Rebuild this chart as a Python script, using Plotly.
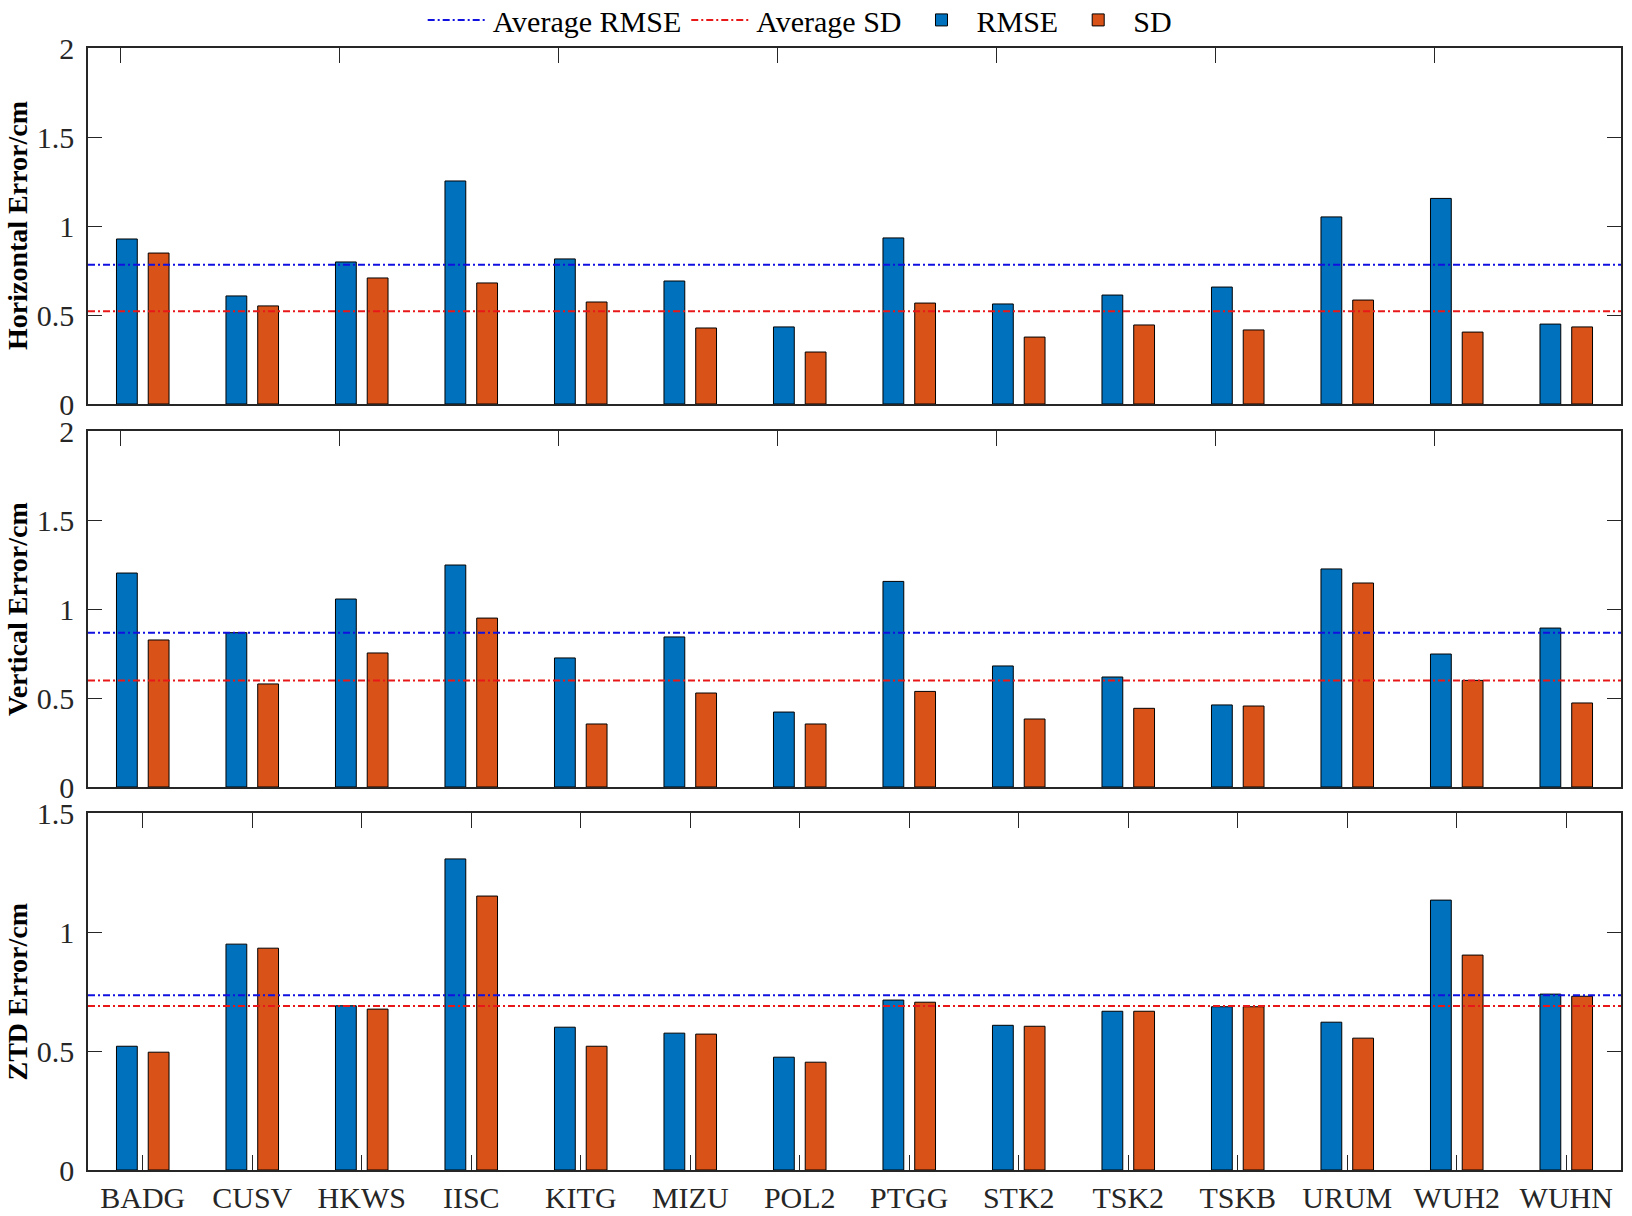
import plotly.graph_objects as go

stations = ["BADG", "CUSV", "HKWS", "IISC", "KITG", "MIZU", "POL2",
            "PTGG", "STK2", "TSK2", "TSKB", "URUM", "WUH2", "WUHN"]

horiz_rmse = [0.927, 0.607, 0.798, 1.253, 0.815, 0.691, 0.433,
              0.933, 0.562, 0.612, 0.657, 1.051, 1.155, 0.449]
horiz_sd = [0.848, 0.551, 0.708, 0.680, 0.573, 0.427, 0.292,
            0.567, 0.376, 0.444, 0.416, 0.584, 0.404, 0.433]

vert_rmse = [1.202, 0.867, 1.056, 1.247, 0.725, 0.843, 0.421,
             1.155, 0.680, 0.618, 0.461, 1.225, 0.747, 0.893]
vert_sd = [0.826, 0.579, 0.753, 0.949, 0.354, 0.528, 0.354,
           0.537, 0.382, 0.442, 0.455, 1.146, 0.599, 0.472]

ztd_rmse = [0.520, 0.949, 0.690, 1.307, 0.600, 0.575, 0.474,
            0.714, 0.608, 0.667, 0.686, 0.621, 1.134, 0.739]
ztd_sd = [0.495, 0.932, 0.676, 1.151, 0.520, 0.571, 0.453,
          0.705, 0.604, 0.667, 0.686, 0.554, 0.903, 0.730]

panel_titles = ["Horizontal Error/cm", "Vertical Error/cm", "ZTD Error/cm"]
y_ticks_2 = [0, 0.5, 1, 1.5, 2]
y_ticklabels_2 = ["0", "0.5", "1", "1.5", "2"]
y_ticks_15 = [0, 0.5, 1, 1.5]
y_ticklabels_15 = ["0", "0.5", "1", "1.5"]

BLUE = "#0072BD"
ORANGE = "#D95319"
AXC = "#262626"
FONT = "Liberation Serif"

W, H = 1632, 1216
xs = list(range(1, len(stations) + 1))
x_lo, x_hi = 0.5, len(stations) + 0.5

# pixel layout -> paper domains
left_px, right_px = 88, 1621
panels_px = [(48, 404), (431, 787), (813, 1170)]
xdom = [left_px / W, right_px / W]
ydoms = [[1 - b / H, 1 - t / H] for (t, b) in panels_px]

panels = [
    (horiz_rmse, horiz_sd, [0, 2], y_ticks_2, y_ticklabels_2),
    (vert_rmse, vert_sd, [0, 2], y_ticks_2, y_ticklabels_2),
    (ztd_rmse, ztd_sd, [0, 1.5], y_ticks_15, y_ticklabels_15),
]

fig = go.Figure()
dash = "7px,3px,2px,3px"

for i, (rmse, sd, yr, yt, ytl) in enumerate(panels):
    xa = "x" if i == 0 else f"x{i+1}"
    ya = "y" if i == 0 else f"y{i+1}"
    avg_r = sum(rmse) / len(rmse)
    avg_s = sum(sd) / len(sd)
    show = (i == 0)
    fig.add_trace(go.Scatter(x=[x_lo, x_hi], y=[avg_r, avg_r], mode="lines",
                             line=dict(color="#1010E0", width=2, dash=dash),
                             name="Average RMSE", showlegend=show, legendrank=1,
                             xaxis=xa, yaxis=ya, hoverinfo="skip"))
    fig.add_trace(go.Scatter(x=[x_lo, x_hi], y=[avg_s, avg_s], mode="lines",
                             line=dict(color="#E81818", width=2, dash=dash),
                             name="Average SD", showlegend=show, legendrank=2,
                             xaxis=xa, yaxis=ya, hoverinfo="skip"))
    fig.add_trace(go.Bar(x=xs, y=rmse, width=0.19, offset=-0.24,
                         marker=dict(color=BLUE, line=dict(color="black", width=1)),
                         name="RMSE", showlegend=show, legendrank=3,
                         xaxis=xa, yaxis=ya))
    fig.add_trace(go.Bar(x=xs, y=sd, width=0.19, offset=0.05,
                         marker=dict(color=ORANGE, line=dict(color="black", width=1)),
                         name="SD", showlegend=show, legendrank=4,
                         xaxis=xa, yaxis=ya))
    if i < 2:
        # empty trace so the overlay axis carrying the top ticks is drawn
        fig.add_trace(go.Scatter(x=[None], y=[None], mode="lines",
                                 xaxis=f"x{4+i}", yaxis=ya, showlegend=False,
                                 hoverinfo="skip"))

layout = dict(
    width=W, height=H,
    margin=dict(l=0, r=0, t=0, b=0, autoexpand=False),
    paper_bgcolor="white", plot_bgcolor="white",
    barmode="overlay",
    font=dict(family=FONT, size=31, color=AXC),
    legend=dict(orientation="h", x=0.49, xanchor="center", y=1.005, yanchor="top",
                font=dict(family=FONT, size=30, color="black"),
                itemwidth=60, bgcolor="rgba(0,0,0,0)", traceorder="normal"),
    showlegend=True,
)

top_tick_vals = [v - 0.2 for v in xs[::2]]

for i in range(3):
    n = "" if i == 0 else str(i + 1)
    ya = "y" + n
    yr, yt, ytl = panels[i][2], panels[i][3], panels[i][4]
    if i < 2:
        layout["xaxis" + n] = dict(domain=xdom, anchor=ya, range=[x_lo, x_hi],
                                   showline=True, linecolor=AXC, linewidth=1.5,
                                   mirror=True, ticks="", showticklabels=False,
                                   showgrid=False, zeroline=False, automargin=False)
        k = 4 + i
        layout[f"xaxis{k}"] = dict(domain=xdom, anchor=ya, overlaying="x" + n,
                                   side="top", range=[x_lo, x_hi],
                                   tickmode="array", tickvals=top_tick_vals,
                                   ticks="inside", ticklen=15, tickwidth=1.2,
                                   tickcolor=AXC, showticklabels=False,
                                   showline=False, showgrid=False, zeroline=False,
                                   automargin=False)
    else:
        layout["xaxis" + n] = dict(domain=xdom, anchor=ya, range=[x_lo, x_hi],
                                   showline=True, linecolor=AXC, linewidth=1.5,
                                   mirror="ticks", ticks="inside", ticklen=15,
                                   tickwidth=1.2, tickcolor=AXC,
                                   tickmode="array", tickvals=xs, ticktext=stations,
                                   ticklabelstandoff=0,
                                   tickfont=dict(family=FONT, size=30, color=AXC),
                                   showgrid=False, zeroline=False, automargin=False)
    layout["yaxis" + n] = dict(domain=ydoms[i], anchor="x" + n, range=yr,
                               showline=True, linecolor=AXC, linewidth=1.5,
                               mirror="ticks", ticks="inside", ticklen=14,
                               tickwidth=1.2, tickcolor=AXC,
                               tickmode="array", tickvals=yt, ticktext=ytl,
                               ticklabelstandoff=6,
                               tickfont=dict(family=FONT, size=30, color=AXC),
                               showgrid=False, zeroline=False, automargin=False)

fig.update_layout(**layout)

annotations = []
for i, title in enumerate(panel_titles):
    n = "" if i == 0 else str(i + 1)
    annotations.append(dict(text="<b>" + title + "</b>", textangle=-90,
                            xref="paper", x=17 / W, xanchor="center",
                            yref=f"y{n} domain", y=0.5, yanchor="middle",
                            showarrow=False,
                            font=dict(family=FONT, size=28, color="black")))
fig.update_layout(annotations=annotations)

fig.write_html("out.html", config={"displayModeBar": False},
               post_script="document.body.style.margin='0';document.body.style.overflow='hidden';")
